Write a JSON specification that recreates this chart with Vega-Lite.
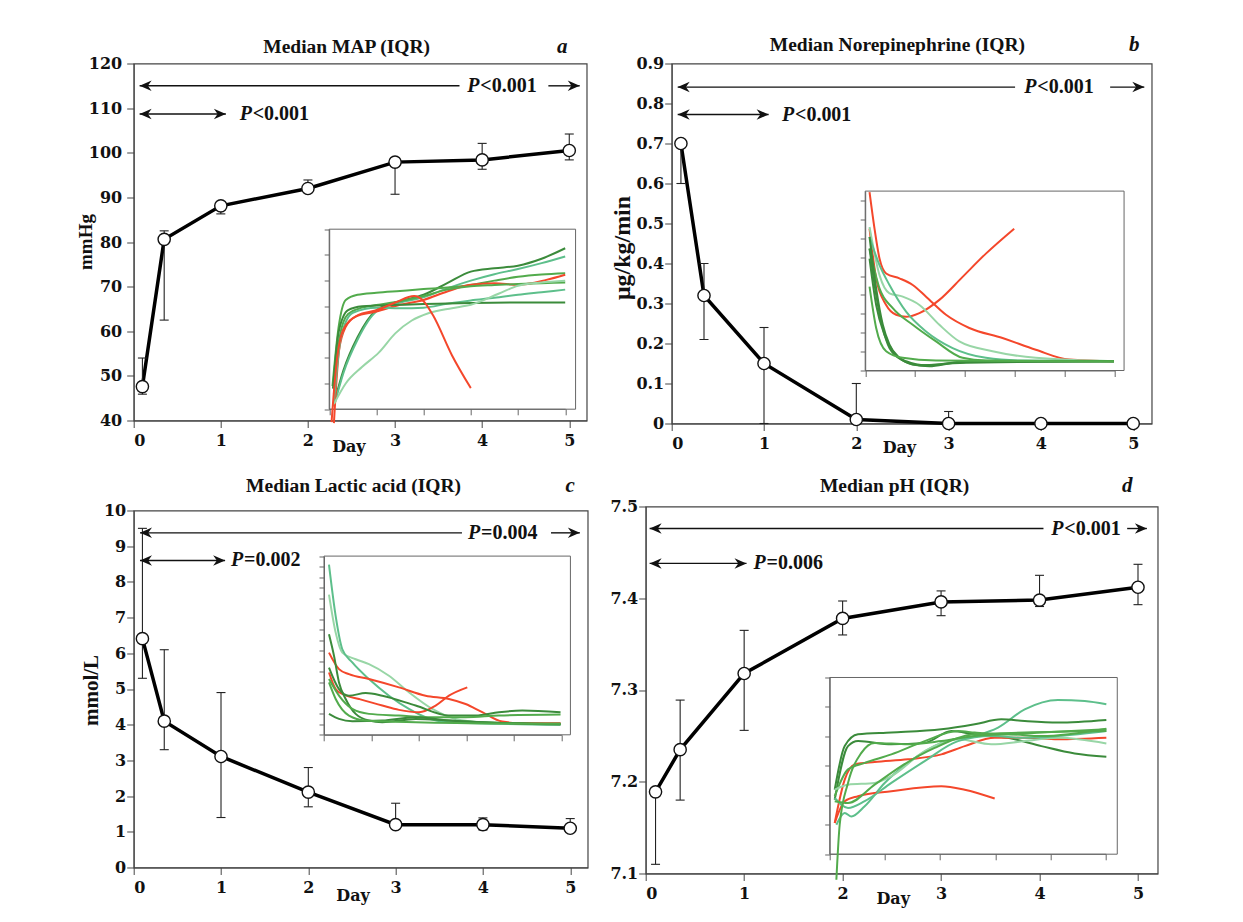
{
  "$schema": "https://vega.github.io/schema/vega-lite/v6.json",
  "background": "white",
  "padding": {"left": 75.7, "top": 32.5, "right": 5, "bottom": 5},
  "config": {
    "view": {"stroke": "#444", "strokeWidth": 1.2},
    "axis": {"grid": false, "labelOverlap": false, "labelSeparation": 0, "tickCount": 30, "domainColor": "#444", "tickColor": "#444", "tickSize": 7, "labelFont": "DejaVu Serif", "labelFontWeight": "bold", "labelFontSize": 16, "labelColor": "#111", "titleFont": "Liberation Serif", "titleFontWeight": "bold", "titleFontSize": 19, "titleColor": "#111"}
  },
  "datasets": {
    "main": [
      {"p":"a","x":0.1,"y":47.6,"lo":45.9,"hi":54.0},{"p":"a","x":0.35,"y":80.6,"lo":62.5,"hi":82.5},{"p":"a","x":1,"y":88.1,"lo":86.3,"hi":88.5},{"p":"a","x":2,"y":92.0,"lo":91.5,"hi":93.9},{"p":"a","x":3,"y":97.9,"lo":90.7,"hi":98.5},{"p":"a","x":4,"y":98.4,"lo":96.3,"hi":102.1},{"p":"a","x":5,"y":100.5,"lo":98.4,"hi":104.2},
      {"p":"b","x":0.1,"y":0.70,"lo":0.60,"hi":0.71},{"p":"b","x":0.35,"y":0.32,"lo":0.21,"hi":0.40},{"p":"b","x":1,"y":0.15,"lo":0,"hi":0.24},{"p":"b","x":2,"y":0.01,"lo":0,"hi":0.10},{"p":"b","x":3,"y":0,"lo":0,"hi":0.03},{"p":"b","x":4,"y":0,"lo":0,"hi":0},{"p":"b","x":5,"y":0,"lo":0,"hi":0},
      {"p":"c","x":0.1,"y":6.41,"lo":5.3,"hi":9.5},{"p":"c","x":0.35,"y":4.10,"lo":3.3,"hi":6.1},{"p":"c","x":1,"y":3.11,"lo":1.4,"hi":4.9},{"p":"c","x":2,"y":2.11,"lo":1.7,"hi":2.8},{"p":"c","x":3,"y":1.2,"lo":1.15,"hi":1.8},{"p":"c","x":4,"y":1.2,"lo":1.05,"hi":1.39},{"p":"c","x":5,"y":1.1,"lo":1.0,"hi":1.37},
      {"p":"d","x":0.1,"y":7.189,"lo":7.110,"hi":7.19},{"p":"d","x":0.35,"y":7.235,"lo":7.180,"hi":7.289},{"p":"d","x":1,"y":7.318,"lo":7.256,"hi":7.365},{"p":"d","x":2,"y":7.378,"lo":7.360,"hi":7.397},{"p":"d","x":3,"y":7.396,"lo":7.381,"hi":7.408},{"p":"d","x":4,"y":7.398,"lo":7.391,"hi":7.425},{"p":"d","x":5,"y":7.412,"lo":7.393,"hi":7.437}
    ],
    "segs": [
      {"p":"a","x":0.068,"x2":3.74,"y":115},{"p":"a","x":4.76,"x2":5.12,"y":115},{"p":"a","x":0.068,"x2":1.058,"y":108.7},
      {"p":"b","x":0.065,"x2":3.72,"y":0.841},{"p":"b","x":4.75,"x2":5.12,"y":0.841},{"p":"b","x":0.065,"x2":1.05,"y":0.7725},
      {"p":"c","x":0.072,"x2":3.76,"y":9.374},{"p":"c","x":4.78,"x2":5.11,"y":9.374},{"p":"c","x":0.072,"x2":1.047,"y":8.6},
      {"p":"d","x":0.04,"x2":4.04,"y":7.476},{"p":"d","x":4.89,"x2":5.09,"y":7.476},{"p":"d","x":0.04,"x2":1.024,"y":7.438}
    ],
    "heads": [
      {"p":"a","x":0.068,"y":115,"dir":"L"},{"p":"a","x":5.12,"y":115,"dir":"R"},{"p":"a","x":0.068,"y":108.7,"dir":"L"},{"p":"a","x":1.058,"y":108.7,"dir":"R"},
      {"p":"b","x":0.065,"y":0.841,"dir":"L"},{"p":"b","x":5.12,"y":0.841,"dir":"R"},{"p":"b","x":0.065,"y":0.7725,"dir":"L"},{"p":"b","x":1.05,"y":0.7725,"dir":"R"},
      {"p":"c","x":0.072,"y":9.374,"dir":"L"},{"p":"c","x":5.11,"y":9.374,"dir":"R"},{"p":"c","x":0.072,"y":8.6,"dir":"L"},{"p":"c","x":1.047,"y":8.6,"dir":"R"},
      {"p":"d","x":0.04,"y":7.476,"dir":"L"},{"p":"d","x":5.09,"y":7.476,"dir":"R"},{"p":"d","x":0.04,"y":7.438,"dir":"L"},{"p":"d","x":1.024,"y":7.438,"dir":"R"}
    ],
    "ptext": [
      {"p":"a","x":3.83,"y":115,"t":"<0.001"},{"p":"a","x":1.217,"y":108.7,"t":"<0.001"},
      {"p":"b","x":3.82,"y":0.841,"t":"<0.001"},{"p":"b","x":1.195,"y":0.7725,"t":"<0.001"},
      {"p":"c","x":3.83,"y":9.374,"t":"=0.004"},{"p":"c","x":1.115,"y":8.6,"t":"=0.002"},
      {"p":"d","x":4.12,"y":7.476,"t":"<0.001"},{"p":"d","x":1.096,"y":7.438,"t":"=0.006"}
    ],
    "letters": [
      {"p":"a","x":4.92,"y":123.7,"t":"a"},{"p":"b","x":5.01,"y":0.9475,"t":"b"},{"p":"c","x":5.0,"y":10.7,"t":"c"},{"p":"d","x":4.89,"y":7.5224,"t":"d"}
    ],
    "titles": [
      {"p":"a","x":2.444,"y":123.7,"t":"Median MAP (IQR)"},{"p":"b","x":2.445,"y":0.9475,"t":"Median Norepinephrine (IQR)"},{"p":"c","x":2.518,"y":10.7,"t":"Median Lactic acid (IQR)"},{"p":"d","x":2.528,"y":7.5224,"t":"Median pH (IQR)"}
    ],
    "frames": [
      {"p":"a","x0":0,"x1":5.22,"y0":40,"y1":110},{"p":"b","x0":0,"x1":5.19,"y0":0,"y1":0.95},{"p":"c","x0":0,"x1":5.19,"y0":0,"y1":17},{"p":"d","x0":0,"x1":5.21,"y0":7.0,"y1":7.6}
    ],
    "curves": [
      {"p":"a","id":"a1","c":"dark","d":0.1,"v":42},{"p":"a","id":"a1","c":"dark","d":0.3,"v":55},{"p":"a","id":"a1","c":"dark","d":0.6,"v":68},{"p":"a","id":"a1","c":"dark","d":1.0,"v":78.5},{"p":"a","id":"a1","c":"dark","d":1.5,"v":82},{"p":"a","id":"a1","c":"dark","d":2.0,"v":84.5},{"p":"a","id":"a1","c":"dark","d":2.5,"v":89},{"p":"a","id":"a1","c":"dark","d":3.0,"v":93.5},{"p":"a","id":"a1","c":"dark","d":3.5,"v":94.8},{"p":"a","id":"a1","c":"dark","d":4.0,"v":95.8},{"p":"a","id":"a1","c":"dark","d":4.5,"v":98.5},{"p":"a","id":"a1","c":"dark","d":5.0,"v":102.6},
      {"p":"a","id":"a2","c":"teal","d":0.1,"v":41},{"p":"a","id":"a2","c":"teal","d":0.3,"v":54},{"p":"a","id":"a2","c":"teal","d":0.6,"v":67},{"p":"a","id":"a2","c":"teal","d":1.0,"v":78},{"p":"a","id":"a2","c":"teal","d":1.5,"v":81.5},{"p":"a","id":"a2","c":"teal","d":2.0,"v":83.5},{"p":"a","id":"a2","c":"teal","d":2.5,"v":87},{"p":"a","id":"a2","c":"teal","d":3.0,"v":90},{"p":"a","id":"a2","c":"teal","d":3.5,"v":92.5},{"p":"a","id":"a2","c":"teal","d":4.0,"v":94.5},{"p":"a","id":"a2","c":"teal","d":4.5,"v":96.8},{"p":"a","id":"a2","c":"teal","d":5.0,"v":99.4},
      {"p":"a","id":"a3","c":"mid","d":0.07,"v":49},{"p":"a","id":"a3","c":"mid","d":0.2,"v":72},{"p":"a","id":"a3","c":"mid","d":0.35,"v":82.5},{"p":"a","id":"a3","c":"mid","d":0.6,"v":84.5},{"p":"a","id":"a3","c":"mid","d":1.0,"v":85.3},{"p":"a","id":"a3","c":"mid","d":1.5,"v":86},{"p":"a","id":"a3","c":"mid","d":2.0,"v":86.7},{"p":"a","id":"a3","c":"mid","d":2.5,"v":87.3},{"p":"a","id":"a3","c":"mid","d":3.0,"v":88.3},{"p":"a","id":"a3","c":"mid","d":3.5,"v":90},{"p":"a","id":"a3","c":"mid","d":4.0,"v":91.5},{"p":"a","id":"a3","c":"mid","d":4.5,"v":92.4},{"p":"a","id":"a3","c":"mid","d":5.0,"v":92.9},
      {"p":"a","id":"a4","c":"red","d":0.1,"v":34.6},{"p":"a","id":"a4","c":"red","d":0.21,"v":63},{"p":"a","id":"a4","c":"red","d":0.35,"v":72},{"p":"a","id":"a4","c":"red","d":0.56,"v":76},{"p":"a","id":"a4","c":"red","d":1.0,"v":78},{"p":"a","id":"a4","c":"red","d":1.5,"v":80.6},{"p":"a","id":"a4","c":"red","d":2.0,"v":82.5},{"p":"a","id":"a4","c":"red","d":2.5,"v":85.8},{"p":"a","id":"a4","c":"red","d":3.0,"v":88.4},{"p":"a","id":"a4","c":"red","d":3.5,"v":89},{"p":"a","id":"a4","c":"red","d":4.0,"v":88.4},{"p":"a","id":"a4","c":"red","d":4.6,"v":90.3},{"p":"a","id":"a4","c":"red","d":5.0,"v":92.3},
      {"p":"a","id":"a5","c":"mid","d":0.1,"v":46},{"p":"a","id":"a5","c":"mid","d":0.22,"v":68},{"p":"a","id":"a5","c":"mid","d":0.4,"v":77},{"p":"a","id":"a5","c":"mid","d":0.7,"v":79.5},{"p":"a","id":"a5","c":"mid","d":1.0,"v":80.5},{"p":"a","id":"a5","c":"mid","d":1.5,"v":82},{"p":"a","id":"a5","c":"mid","d":2.0,"v":84},{"p":"a","id":"a5","c":"mid","d":2.5,"v":86.5},{"p":"a","id":"a5","c":"mid","d":3.0,"v":87.8},{"p":"a","id":"a5","c":"mid","d":3.5,"v":88.3},{"p":"a","id":"a5","c":"mid","d":4.0,"v":88.7},{"p":"a","id":"a5","c":"mid","d":4.5,"v":89},{"p":"a","id":"a5","c":"mid","d":5.0,"v":89.3},
      {"p":"a","id":"a6","c":"teal","d":0.1,"v":43},{"p":"a","id":"a6","c":"teal","d":0.25,"v":68},{"p":"a","id":"a6","c":"teal","d":0.5,"v":77.5},{"p":"a","id":"a6","c":"teal","d":1.0,"v":79.5},{"p":"a","id":"a6","c":"teal","d":1.5,"v":79.3},{"p":"a","id":"a6","c":"teal","d":2.0,"v":79.5},{"p":"a","id":"a6","c":"teal","d":2.5,"v":81},{"p":"a","id":"a6","c":"teal","d":3.0,"v":82.3},{"p":"a","id":"a6","c":"teal","d":3.5,"v":83.3},{"p":"a","id":"a6","c":"teal","d":4.0,"v":84.5},{"p":"a","id":"a6","c":"teal","d":4.5,"v":85.5},{"p":"a","id":"a6","c":"teal","d":5.0,"v":86.5},
      {"p":"a","id":"a7","c":"dark","d":0.08,"v":48},{"p":"a","id":"a7","c":"dark","d":0.2,"v":70},{"p":"a","id":"a7","c":"dark","d":0.4,"v":78.5},{"p":"a","id":"a7","c":"dark","d":0.7,"v":80},{"p":"a","id":"a7","c":"dark","d":1.0,"v":80.3},{"p":"a","id":"a7","c":"dark","d":1.5,"v":80.6},{"p":"a","id":"a7","c":"dark","d":2.0,"v":80.9},{"p":"a","id":"a7","c":"dark","d":2.5,"v":81.1},{"p":"a","id":"a7","c":"dark","d":3.0,"v":81.3},{"p":"a","id":"a7","c":"dark","d":4.0,"v":81.5},{"p":"a","id":"a7","c":"dark","d":5.0,"v":81.5},
      {"p":"a","id":"a8","c":"pale","d":0.1,"v":42},{"p":"a","id":"a8","c":"pale","d":0.35,"v":50},{"p":"a","id":"a8","c":"pale","d":0.7,"v":56.5},{"p":"a","id":"a8","c":"pale","d":1.05,"v":62},{"p":"a","id":"a8","c":"pale","d":1.4,"v":69.5},{"p":"a","id":"a8","c":"pale","d":1.75,"v":74.5},{"p":"a","id":"a8","c":"pale","d":2.1,"v":77.3},{"p":"a","id":"a8","c":"pale","d":2.6,"v":79.3},{"p":"a","id":"a8","c":"pale","d":3.0,"v":80.6},{"p":"a","id":"a8","c":"pale","d":3.6,"v":85},{"p":"a","id":"a8","c":"pale","d":4.0,"v":88},{"p":"a","id":"a8","c":"pale","d":4.5,"v":89.3},{"p":"a","id":"a8","c":"pale","d":5.0,"v":90},
      {"p":"a","id":"a9","c":"red","d":0.05,"v":35},{"p":"a","id":"a9","c":"red","d":0.15,"v":57},{"p":"a","id":"a9","c":"red","d":0.3,"v":71},{"p":"a","id":"a9","c":"red","d":0.6,"v":76.5},{"p":"a","id":"a9","c":"red","d":1.0,"v":78.5},{"p":"a","id":"a9","c":"red","d":1.4,"v":81.5},{"p":"a","id":"a9","c":"red","d":1.8,"v":84},{"p":"a","id":"a9","c":"red","d":2.0,"v":82},{"p":"a","id":"a9","c":"red","d":2.2,"v":76.5},{"p":"a","id":"a9","c":"red","d":2.6,"v":61},{"p":"a","id":"a9","c":"red","d":3.0,"v":48.2},

      {"p":"b","id":"b1","c":"red","d":0.087,"v":0.944},{"p":"b","id":"b1","c":"red","d":0.187,"v":0.751},{"p":"b","id":"b1","c":"red","d":0.287,"v":0.593},{"p":"b","id":"b1","c":"red","d":0.42,"v":0.514},{"p":"b","id":"b1","c":"red","d":0.687,"v":0.488},{"p":"b","id":"b1","c":"red","d":0.953,"v":0.453},{"p":"b","id":"b1","c":"red","d":1.22,"v":0.391},{"p":"b","id":"b1","c":"red","d":1.62,"v":0.295},{"p":"b","id":"b1","c":"red","d":2.087,"v":0.225},{"p":"b","id":"b1","c":"red","d":2.753,"v":0.172},{"p":"b","id":"b1","c":"red","d":3.42,"v":0.11},{"p":"b","id":"b1","c":"red","d":4.087,"v":0.058},{"p":"b","id":"b1","c":"red","d":4.987,"v":0.049},
      {"p":"b","id":"b2","c":"red","d":0.087,"v":0.751},{"p":"b","id":"b2","c":"red","d":0.22,"v":0.488},{"p":"b","id":"b2","c":"red","d":0.42,"v":0.347},{"p":"b","id":"b2","c":"red","d":0.62,"v":0.295},{"p":"b","id":"b2","c":"red","d":0.82,"v":0.284},{"p":"b","id":"b2","c":"red","d":1.087,"v":0.304},{"p":"b","id":"b2","c":"red","d":1.487,"v":0.374},{"p":"b","id":"b2","c":"red","d":1.953,"v":0.496},{"p":"b","id":"b2","c":"red","d":2.42,"v":0.619},{"p":"b","id":"b2","c":"red","d":2.987,"v":0.751},
      {"p":"b","id":"b3","c":"pale","d":0.087,"v":0.76},{"p":"b","id":"b3","c":"pale","d":0.287,"v":0.505},{"p":"b","id":"b3","c":"pale","d":0.487,"v":0.409},{"p":"b","id":"b3","c":"pale","d":0.753,"v":0.391},{"p":"b","id":"b3","c":"pale","d":1.087,"v":0.347},{"p":"b","id":"b3","c":"pale","d":1.487,"v":0.242},{"p":"b","id":"b3","c":"pale","d":1.887,"v":0.154},{"p":"b","id":"b3","c":"pale","d":2.553,"v":0.102},{"p":"b","id":"b3","c":"pale","d":3.42,"v":0.067},{"p":"b","id":"b3","c":"pale","d":4.987,"v":0.049},
      {"p":"b","id":"b4","c":"teal","d":0.087,"v":0.707},{"p":"b","id":"b4","c":"teal","d":0.287,"v":0.558},{"p":"b","id":"b4","c":"teal","d":0.487,"v":0.453},{"p":"b","id":"b4","c":"teal","d":0.82,"v":0.312},{"p":"b","id":"b4","c":"teal","d":1.22,"v":0.207},{"p":"b","id":"b4","c":"teal","d":1.753,"v":0.119},{"p":"b","id":"b4","c":"teal","d":2.42,"v":0.067},{"p":"b","id":"b4","c":"teal","d":3.087,"v":0.053},{"p":"b","id":"b4","c":"teal","d":4.987,"v":0.049},
      {"p":"b","id":"b5","c":"mid","d":0.087,"v":0.646},{"p":"b","id":"b5","c":"mid","d":0.287,"v":0.435},{"p":"b","id":"b5","c":"mid","d":0.553,"v":0.33},{"p":"b","id":"b5","c":"mid","d":0.953,"v":0.242},{"p":"b","id":"b5","c":"mid","d":1.42,"v":0.154},{"p":"b","id":"b5","c":"mid","d":1.953,"v":0.067},{"p":"b","id":"b5","c":"mid","d":2.42,"v":0.053},{"p":"b","id":"b5","c":"mid","d":4.987,"v":0.049},
      {"p":"b","id":"b6","c":"dark","d":0.087,"v":0.707},{"p":"b","id":"b6","c":"dark","d":0.22,"v":0.435},{"p":"b","id":"b6","c":"dark","d":0.353,"v":0.242},{"p":"b","id":"b6","c":"dark","d":0.487,"v":0.137},{"p":"b","id":"b6","c":"dark","d":0.687,"v":0.067},{"p":"b","id":"b6","c":"dark","d":0.953,"v":0.032},{"p":"b","id":"b6","c":"dark","d":1.287,"v":0.023},{"p":"b","id":"b6","c":"dark","d":1.753,"v":0.04},{"p":"b","id":"b6","c":"dark","d":2.42,"v":0.049},{"p":"b","id":"b6","c":"dark","d":4.987,"v":0.049},
      {"p":"b","id":"b7","c":"dark","d":0.087,"v":0.646},{"p":"b","id":"b7","c":"dark","d":0.22,"v":0.4},{"p":"b","id":"b7","c":"dark","d":0.353,"v":0.225},{"p":"b","id":"b7","c":"dark","d":0.487,"v":0.119},{"p":"b","id":"b7","c":"dark","d":0.753,"v":0.053},{"p":"b","id":"b7","c":"dark","d":1.087,"v":0.028},{"p":"b","id":"b7","c":"dark","d":1.487,"v":0.032},{"p":"b","id":"b7","c":"dark","d":1.953,"v":0.046},{"p":"b","id":"b7","c":"dark","d":4.987,"v":0.049},
      {"p":"b","id":"b8","c":"dark","d":0.087,"v":0.593},{"p":"b","id":"b8","c":"dark","d":0.22,"v":0.347},{"p":"b","id":"b8","c":"dark","d":0.387,"v":0.189},{"p":"b","id":"b8","c":"dark","d":0.553,"v":0.102},{"p":"b","id":"b8","c":"dark","d":0.82,"v":0.049},{"p":"b","id":"b8","c":"dark","d":1.22,"v":0.028},{"p":"b","id":"b8","c":"dark","d":1.753,"v":0.039},{"p":"b","id":"b8","c":"dark","d":4.987,"v":0.049},
      {"p":"b","id":"b9","c":"mid","d":0.087,"v":0.444},{"p":"b","id":"b9","c":"mid","d":0.22,"v":0.225},{"p":"b","id":"b9","c":"mid","d":0.42,"v":0.102},{"p":"b","id":"b9","c":"mid","d":0.753,"v":0.067},{"p":"b","id":"b9","c":"mid","d":1.42,"v":0.053},{"p":"b","id":"b9","c":"mid","d":4.987,"v":0.049},

      {"p":"c","id":"c1","c":"pale","d":0.105,"v":13.34},{"p":"c","id":"c1","c":"pale","d":0.246,"v":9.72},{"p":"c","id":"c1","c":"pale","d":0.386,"v":7.82},{"p":"c","id":"c1","c":"pale","d":0.667,"v":7.19},{"p":"c","id":"c1","c":"pale","d":0.947,"v":6.72},{"p":"c","id":"c1","c":"pale","d":1.368,"v":5.62},{"p":"c","id":"c1","c":"pale","d":1.789,"v":4.04},{"p":"c","id":"c1","c":"pale","d":2.281,"v":2.46},{"p":"c","id":"c1","c":"pale","d":2.772,"v":1.51},{"p":"c","id":"c1","c":"pale","d":3.333,"v":1.2},{"p":"c","id":"c1","c":"pale","d":4.982,"v":1.04},
      {"p":"c","id":"c2","c":"teal","d":0.105,"v":16.18},{"p":"c","id":"c2","c":"teal","d":0.246,"v":11.29},{"p":"c","id":"c2","c":"teal","d":0.386,"v":8.14},{"p":"c","id":"c2","c":"teal","d":0.596,"v":6.88},{"p":"c","id":"c2","c":"teal","d":0.947,"v":5.3},{"p":"c","id":"c2","c":"teal","d":1.368,"v":3.72},{"p":"c","id":"c2","c":"teal","d":1.789,"v":2.46},{"p":"c","id":"c2","c":"teal","d":2.14,"v":1.67},{"p":"c","id":"c2","c":"teal","d":2.632,"v":1.2},{"p":"c","id":"c2","c":"teal","d":4.982,"v":0.95},
      {"p":"c","id":"c3","c":"red","d":0.105,"v":7.82},{"p":"c","id":"c3","c":"red","d":0.316,"v":6.25},{"p":"c","id":"c3","c":"red","d":0.526,"v":5.77},{"p":"c","id":"c3","c":"red","d":0.947,"v":5.3},{"p":"c","id":"c3","c":"red","d":1.579,"v":4.51},{"p":"c","id":"c3","c":"red","d":2.14,"v":3.72},{"p":"c","id":"c3","c":"red","d":2.632,"v":3.41},{"p":"c","id":"c3","c":"red","d":2.982,"v":2.93},{"p":"c","id":"c3","c":"red","d":3.333,"v":2.15},{"p":"c","id":"c3","c":"red","d":3.754,"v":1.26},{"p":"c","id":"c3","c":"red","d":4.175,"v":1.1},{"p":"c","id":"c3","c":"red","d":4.982,"v":1.1},
      {"p":"c","id":"c4","c":"red","d":0.105,"v":5.93},{"p":"c","id":"c4","c":"red","d":0.246,"v":4.35},{"p":"c","id":"c4","c":"red","d":0.386,"v":3.88},{"p":"c","id":"c4","c":"red","d":0.737,"v":3.41},{"p":"c","id":"c4","c":"red","d":1.228,"v":2.78},{"p":"c","id":"c4","c":"red","d":1.579,"v":2.37},{"p":"c","id":"c4","c":"red","d":2.0,"v":2.15},{"p":"c","id":"c4","c":"red","d":2.351,"v":2.78},{"p":"c","id":"c4","c":"red","d":2.632,"v":3.72},{"p":"c","id":"c4","c":"red","d":3.018,"v":4.51},
      {"p":"c","id":"c5","c":"dark","d":0.105,"v":9.56},{"p":"c","id":"c5","c":"dark","d":0.211,"v":7.51},{"p":"c","id":"c5","c":"dark","d":0.316,"v":4.98},{"p":"c","id":"c5","c":"dark","d":0.456,"v":3.41},{"p":"c","id":"c5","c":"dark","d":0.667,"v":1.99},{"p":"c","id":"c5","c":"dark","d":0.947,"v":1.36},{"p":"c","id":"c5","c":"dark","d":1.228,"v":1.2},{"p":"c","id":"c5","c":"dark","d":1.93,"v":1.51},{"p":"c","id":"c5","c":"dark","d":2.632,"v":1.36},{"p":"c","id":"c5","c":"dark","d":3.333,"v":1.2},{"p":"c","id":"c5","c":"dark","d":4.982,"v":1.04},
      {"p":"c","id":"c6","c":"dark","d":0.105,"v":6.4},{"p":"c","id":"c6","c":"dark","d":0.316,"v":4.35},{"p":"c","id":"c6","c":"dark","d":0.526,"v":3.72},{"p":"c","id":"c6","c":"dark","d":0.877,"v":3.97},{"p":"c","id":"c6","c":"dark","d":1.228,"v":3.72},{"p":"c","id":"c6","c":"dark","d":1.93,"v":2.78},{"p":"c","id":"c6","c":"dark","d":2.632,"v":1.83},{"p":"c","id":"c6","c":"dark","d":3.193,"v":1.83},{"p":"c","id":"c6","c":"dark","d":3.684,"v":2.15},{"p":"c","id":"c6","c":"dark","d":4.175,"v":2.3},{"p":"c","id":"c6","c":"dark","d":4.982,"v":2.15},
      {"p":"c","id":"c7","c":"mid","d":0.105,"v":5.3},{"p":"c","id":"c7","c":"mid","d":0.316,"v":3.72},{"p":"c","id":"c7","c":"mid","d":0.596,"v":2.46},{"p":"c","id":"c7","c":"mid","d":0.947,"v":1.99},{"p":"c","id":"c7","c":"mid","d":1.579,"v":1.83},{"p":"c","id":"c7","c":"mid","d":2.281,"v":1.67},{"p":"c","id":"c7","c":"mid","d":2.982,"v":1.67},{"p":"c","id":"c7","c":"mid","d":3.684,"v":1.83},{"p":"c","id":"c7","c":"mid","d":4.982,"v":1.92},
      {"p":"c","id":"c8","c":"dark","d":0.105,"v":1.99},{"p":"c","id":"c8","c":"dark","d":0.316,"v":1.51},{"p":"c","id":"c8","c":"dark","d":0.596,"v":1.29},{"p":"c","id":"c8","c":"dark","d":1.228,"v":1.36},{"p":"c","id":"c8","c":"dark","d":1.93,"v":1.67},{"p":"c","id":"c8","c":"dark","d":2.632,"v":1.36},{"p":"c","id":"c8","c":"dark","d":3.333,"v":1.2},{"p":"c","id":"c8","c":"dark","d":4.982,"v":0.98},
      {"p":"c","id":"c9","c":"mid","d":0.105,"v":4.98},{"p":"c","id":"c9","c":"mid","d":0.246,"v":3.41},{"p":"c","id":"c9","c":"mid","d":0.526,"v":1.83},{"p":"c","id":"c9","c":"mid","d":0.877,"v":1.36},{"p":"c","id":"c9","c":"mid","d":1.93,"v":1.2},{"p":"c","id":"c9","c":"mid","d":4.982,"v":1.04},

      {"p":"d","id":"d1","c":"teal","d":0.121,"v":7.1},{"p":"d","id":"d1","c":"teal","d":0.272,"v":7.14},{"p":"d","id":"d1","c":"teal","d":0.393,"v":7.128},{"p":"d","id":"d1","c":"teal","d":0.634,"v":7.163},{"p":"d","id":"d1","c":"teal","d":0.996,"v":7.242},{"p":"d","id":"d1","c":"teal","d":1.419,"v":7.31},{"p":"d","id":"d1","c":"teal","d":2.023,"v":7.378},{"p":"d","id":"d1","c":"teal","d":2.627,"v":7.401},{"p":"d","id":"d1","c":"teal","d":3.05,"v":7.43},{"p":"d","id":"d1","c":"teal","d":3.533,"v":7.492},{"p":"d","id":"d1","c":"teal","d":4.136,"v":7.524},{"p":"d","id":"d1","c":"teal","d":4.62,"v":7.52},{"p":"d","id":"d1","c":"teal","d":5.012,"v":7.509},
      {"p":"d","id":"d2","c":"dark","d":0.091,"v":7.219},{"p":"d","id":"d2","c":"dark","d":0.272,"v":7.367},{"p":"d","id":"d2","c":"dark","d":0.513,"v":7.407},{"p":"d","id":"d2","c":"dark","d":1.117,"v":7.413},{"p":"d","id":"d2","c":"dark","d":2.023,"v":7.424},{"p":"d","id":"d2","c":"dark","d":2.627,"v":7.441},{"p":"d","id":"d2","c":"dark","d":3.11,"v":7.458},{"p":"d","id":"d2","c":"dark","d":3.533,"v":7.452},{"p":"d","id":"d2","c":"dark","d":4.136,"v":7.447},{"p":"d","id":"d2","c":"dark","d":5.012,"v":7.456},
      {"p":"d","id":"d3","c":"dark","d":0.091,"v":7.185},{"p":"d","id":"d3","c":"dark","d":0.332,"v":7.367},{"p":"d","id":"d3","c":"dark","d":0.513,"v":7.384},{"p":"d","id":"d3","c":"dark","d":1.117,"v":7.373},{"p":"d","id":"d3","c":"dark","d":1.721,"v":7.378},{"p":"d","id":"d3","c":"dark","d":2.204,"v":7.418},{"p":"d","id":"d3","c":"dark","d":2.627,"v":7.407},{"p":"d","id":"d3","c":"dark","d":3.231,"v":7.395},{"p":"d","id":"d3","c":"dark","d":3.835,"v":7.367},{"p":"d","id":"d3","c":"dark","d":4.438,"v":7.342},{"p":"d","id":"d3","c":"dark","d":5.012,"v":7.331},
      {"p":"d","id":"d4","c":"red","d":0.091,"v":7.106},{"p":"d","id":"d4","c":"red","d":0.272,"v":7.253},{"p":"d","id":"d4","c":"red","d":0.453,"v":7.305},{"p":"d","id":"d4","c":"red","d":0.815,"v":7.313},{"p":"d","id":"d4","c":"red","d":1.419,"v":7.322},{"p":"d","id":"d4","c":"red","d":2.023,"v":7.339},{"p":"d","id":"d4","c":"red","d":2.446,"v":7.367},{"p":"d","id":"d4","c":"red","d":2.989,"v":7.395},{"p":"d","id":"d4","c":"red","d":3.533,"v":7.395},{"p":"d","id":"d4","c":"red","d":4.136,"v":7.39},{"p":"d","id":"d4","c":"red","d":5.012,"v":7.395},
      {"p":"d","id":"d5","c":"red","d":0.091,"v":7.106},{"p":"d","id":"d5","c":"red","d":0.272,"v":7.18},{"p":"d","id":"d5","c":"red","d":0.513,"v":7.197},{"p":"d","id":"d5","c":"red","d":1.117,"v":7.214},{"p":"d","id":"d5","c":"red","d":2.023,"v":7.231},{"p":"d","id":"d5","c":"red","d":2.446,"v":7.219},{"p":"d","id":"d5","c":"red","d":2.989,"v":7.189},
      {"p":"d","id":"d6","c":"mid","d":0.091,"v":7.197},{"p":"d","id":"d6","c":"mid","d":0.332,"v":7.288},{"p":"d","id":"d6","c":"mid","d":0.634,"v":7.31},{"p":"d","id":"d6","c":"mid","d":1.117,"v":7.339},{"p":"d","id":"d6","c":"mid","d":1.721,"v":7.384},{"p":"d","id":"d6","c":"mid","d":2.325,"v":7.418},{"p":"d","id":"d6","c":"mid","d":2.627,"v":7.413},{"p":"d","id":"d6","c":"mid","d":3.231,"v":7.407},{"p":"d","id":"d6","c":"mid","d":3.835,"v":7.413},{"p":"d","id":"d6","c":"mid","d":5.012,"v":7.424},
      {"p":"d","id":"d7","c":"pale","d":0.091,"v":7.219},{"p":"d","id":"d7","c":"pale","d":0.332,"v":7.236},{"p":"d","id":"d7","c":"pale","d":0.815,"v":7.242},{"p":"d","id":"d7","c":"pale","d":1.117,"v":7.265},{"p":"d","id":"d7","c":"pale","d":1.721,"v":7.35},{"p":"d","id":"d7","c":"pale","d":2.325,"v":7.39},{"p":"d","id":"d7","c":"pale","d":2.929,"v":7.373},{"p":"d","id":"d7","c":"pale","d":3.533,"v":7.384},{"p":"d","id":"d7","c":"pale","d":4.136,"v":7.395},{"p":"d","id":"d7","c":"pale","d":5.012,"v":7.376},
      {"p":"d","id":"d8","c":"teal","d":0.091,"v":7.191},{"p":"d","id":"d8","c":"teal","d":0.332,"v":7.157},{"p":"d","id":"d8","c":"teal","d":0.634,"v":7.18},{"p":"d","id":"d8","c":"teal","d":1.117,"v":7.242},{"p":"d","id":"d8","c":"teal","d":1.721,"v":7.316},{"p":"d","id":"d8","c":"teal","d":2.325,"v":7.384},{"p":"d","id":"d8","c":"teal","d":2.929,"v":7.401},{"p":"d","id":"d8","c":"teal","d":3.533,"v":7.395},{"p":"d","id":"d8","c":"teal","d":4.136,"v":7.401},{"p":"d","id":"d8","c":"teal","d":5.012,"v":7.418},
      {"p":"d","id":"d9","c":"mid","d":0.121,"v":6.913},{"p":"d","id":"d9","c":"mid","d":0.181,"v":7.1},{"p":"d","id":"d9","c":"mid","d":0.332,"v":7.242},{"p":"d","id":"d9","c":"mid","d":0.574,"v":7.344},{"p":"d","id":"d9","c":"mid","d":0.815,"v":7.378},{"p":"d","id":"d9","c":"mid","d":1.419,"v":7.373},{"p":"d","id":"d9","c":"mid","d":2.023,"v":7.384},{"p":"d","id":"d9","c":"mid","d":2.627,"v":7.401},{"p":"d","id":"d9","c":"mid","d":3.231,"v":7.407},{"p":"d","id":"d9","c":"mid","d":3.835,"v":7.401},{"p":"d","id":"d9","c":"mid","d":5.012,"v":7.426},
      {"p":"d","id":"d10","c":"mid","d":0.091,"v":7.18},{"p":"d","id":"d10","c":"mid","d":0.332,"v":7.174},{"p":"d","id":"d10","c":"mid","d":0.815,"v":7.236},{"p":"d","id":"d10","c":"mid","d":1.298,"v":7.299},{"p":"d","id":"d10","c":"mid","d":1.902,"v":7.361},{"p":"d","id":"d10","c":"mid","d":2.627,"v":7.407},{"p":"d","id":"d10","c":"mid","d":3.533,"v":7.413},{"p":"d","id":"d10","c":"mid","d":5.012,"v":7.418}
    ]
  },
  "columns": 2,
  "align": "none",
  "spacing": {"row": 17, "column": 20},
  "concat": [
    {
      "width": 453, "height": 357,
      "resolve": {"scale": {"x": "independent", "y": "independent"}},
      "layer": [
        {"layer": [
          {"data": {"name": "main"}, "transform": [{"filter": "datum.p=='a'"}], "mark": {"type": "line", "color": "#000", "strokeWidth": 3.5},
           "encoding": {
             "x": {"field": "x", "type": "quantitative", "scale": {"domain": [0, 5.2], "nice": false, "zero": false}, "axis": {"orient": "bottom", "values": [0,1,2,3,4,5], "tickCount": 30, "format": "d", "labelOverlap": false, "labelPadding": 5, "title": "Day", "titleX": 214.7, "titleY": 25.5, "titleAngle": 0, "titleAlign": "center", "titleBaseline": "middle", "titleFont": "DejaVu Serif", "titleFontSize": 16}},
             "y": {"field": "y", "type": "quantitative", "scale": {"domain": [40, 120], "nice": false, "zero": false}, "axis": {"orient": "left", "values": [40,50,60,70,80,90,100,110,120], "tickCount": 30, "format": "d", "labelOverlap": false, "labelPadding": 5, "title": "mmHg", "titleX": -47.9, "titleY": 178, "titleAngle": 270, "titleAlign": "center", "titleBaseline": "middle", "titleFontSize": 19}}
           }},
          {"data": {"name": "main"}, "transform": [{"filter": "datum.p=='a'"}], "mark": {"type": "rule", "strokeWidth": 1.1, "color": "#222"},
           "encoding": {"x": {"field": "x", "type": "quantitative"}, "y": {"field": "lo", "type": "quantitative"}, "y2": {"field": "hi"}}},
          {"data": {"name": "main"}, "transform": [{"filter": "datum.p=='a'"}], "mark": {"type": "tick", "orient": "horizontal", "size": 9, "thickness": 1.1, "color": "#222", "opacity": 1},
           "encoding": {"x": {"field": "x", "type": "quantitative"}, "y": {"field": "lo", "type": "quantitative"}}},
          {"data": {"name": "main"}, "transform": [{"filter": "datum.p=='a'"}], "mark": {"type": "tick", "orient": "horizontal", "size": 9, "thickness": 1.1, "color": "#222", "opacity": 1},
           "encoding": {"x": {"field": "x", "type": "quantitative"}, "y": {"field": "hi", "type": "quantitative"}}},
          {"data": {"name": "segs"}, "transform": [{"filter": "datum.p=='a'"}], "mark": {"type": "rule", "strokeWidth": 1.4, "color": "#111"},
           "encoding": {"x": {"field": "x", "type": "quantitative"}, "x2": {"field": "x2"}, "y": {"field": "y", "type": "quantitative"}}},
          {"data": {"name": "heads"}, "transform": [{"filter": "datum.p=='a'"}], "mark": {"type": "point", "filled": true, "color": "#111", "size": 225, "opacity": 1, "strokeWidth": 0},
           "encoding": {"x": {"field": "x", "type": "quantitative"}, "y": {"field": "y", "type": "quantitative"}, "shape": {"field": "dir", "type": "nominal", "scale": {"domain": ["L","R"], "range": ["M0,0L1.6,-0.7L1.1,0L1.6,0.7Z","M0,0L-1.6,-0.7L-1.1,0L-1.6,0.7Z"]}, "legend": null}}},
          {"data": {"name": "ptext"}, "transform": [{"filter": "datum.p=='a'"}], "mark": {"type": "text", "text": "P", "align": "left", "baseline": "middle", "font": "Liberation Serif", "fontSize": 20, "fontWeight": "bold", "fontStyle": "italic", "color": "#111"},
           "encoding": {"x": {"field": "x", "type": "quantitative"}, "y": {"field": "y", "type": "quantitative"}}},
          {"data": {"name": "ptext"}, "transform": [{"filter": "datum.p=='a'"}], "mark": {"type": "text", "dx": 13, "align": "left", "baseline": "middle", "font": "Liberation Serif", "fontSize": 20, "fontWeight": "bold", "color": "#111"},
           "encoding": {"x": {"field": "x", "type": "quantitative"}, "y": {"field": "y", "type": "quantitative"}, "text": {"field": "t"}}},
          {"data": {"name": "letters"}, "transform": [{"filter": "datum.p=='a'"}], "mark": {"type": "text", "align": "center", "baseline": "middle", "font": "Liberation Serif", "fontSize": 21, "fontWeight": "bold", "fontStyle": "italic", "color": "#111"},
           "encoding": {"x": {"field": "x", "type": "quantitative"}, "y": {"field": "y", "type": "quantitative"}, "text": {"field": "t"}}},
          {"data": {"name": "titles"}, "transform": [{"filter": "datum.p=='a'"}], "mark": {"type": "text", "align": "center", "baseline": "middle", "font": "Liberation Serif", "fontSize": 19.5, "fontWeight": "bold", "color": "#111"},
           "encoding": {"x": {"field": "x", "type": "quantitative"}, "y": {"field": "y", "type": "quantitative"}, "text": {"field": "t"}}},
          {"data": {"name": "main"}, "transform": [{"filter": "datum.p=='a'"}], "mark": {"type": "point", "filled": true, "fill": "#fff", "stroke": "#111", "strokeWidth": 1.4, "size": 150, "opacity": 1},
           "encoding": {"x": {"field": "x", "type": "quantitative"}, "y": {"field": "y", "type": "quantitative"}}}
        ]},
        {"layer": [
          {"data": {"name": "frames"}, "transform": [{"filter": "datum.p=='a'"}], "mark": {"type": "rect", "fillOpacity": 0, "stroke": "#666", "strokeWidth": 1},
           "encoding": {"x": {"field": "x0", "type": "quantitative"}, "x2": {"field": "x1"}, "y": {"field": "y0", "type": "quantitative"}, "y2": {"field": "y1"}}},
          {"data": {"name": "curves"}, "transform": [{"filter": "datum.p=='a'"}], "mark": {"type": "line", "interpolate": "monotone", "strokeWidth": 2},
           "encoding": {
             "x": {"field": "d", "type": "quantitative", "scale": {"domain": [0, 5], "range": [195.5, 431.5], "nice": false, "zero": false}, "axis": {"orient": "bottom", "offset": -11.7, "values": [0,1,2,3,4,5], "tickCount": 30, "labels": false, "title": null, "domainColor": "#666", "tickColor": "#666", "tickSize": 6}},
             "y": {"field": "v", "type": "quantitative", "scale": {"domain": [40, 110], "range": [345.7, 165.7], "nice": false, "zero": false}, "axis": {"orient": "left", "offset": -195.5, "values": [40,50,60,70,80,90,100,110], "tickCount": 30, "labels": false, "title": null, "domainColor": "#666", "tickColor": "#666", "tickSize": 5}},
             "color": {"field": "c", "type": "nominal", "scale": {"domain": ["dark","mid","teal","pale","red"], "range": ["#3b8b3b","#52ab4c","#5dbf8b","#98d6a6","#f4472b"]}, "legend": null},
             "detail": {"field": "id"}
           }}
        ]}
      ]
    },
    {
      "width": 480, "height": 360,
      "resolve": {"scale": {"x": "independent", "y": "independent"}},
      "layer": [
        {"layer": [
          {"data": {"name": "main"}, "transform": [{"filter": "datum.p=='b'"}], "mark": {"type": "line", "color": "#000", "strokeWidth": 3.5},
           "encoding": {
             "x": {"field": "x", "type": "quantitative", "scale": {"domain": [0, 5.2], "nice": false, "zero": false}, "axis": {"orient": "bottom", "values": [0,1,2,3,4,5], "tickCount": 30, "format": "d", "labelOverlap": false, "labelPadding": 5, "title": "Day", "titleX": 227.2, "titleY": 24.3, "titleAngle": 0, "titleAlign": "center", "titleBaseline": "middle", "titleFont": "DejaVu Serif", "titleFontSize": 16}},
             "y": {"field": "y", "type": "quantitative", "scale": {"domain": [0, 0.9], "nice": false, "zero": false}, "axis": {"orient": "left", "values": [0,0.1,0.2,0.3,0.4,0.5,0.6,0.7,0.8,0.9], "tickCount": 30, "format": ".1~f", "labelOverlap": false, "labelPadding": 1, "title": "μg/kg/min", "titleX": -49.6, "titleY": 184, "titleAngle": 270, "titleAlign": "center", "titleBaseline": "middle", "titleFontSize": 24}}
           }},
          {"data": {"name": "main"}, "transform": [{"filter": "datum.p=='b'"}], "mark": {"type": "rule", "strokeWidth": 1.1, "color": "#222"},
           "encoding": {"x": {"field": "x", "type": "quantitative"}, "y": {"field": "lo", "type": "quantitative"}, "y2": {"field": "hi"}}},
          {"data": {"name": "main"}, "transform": [{"filter": "datum.p=='b'"}], "mark": {"type": "tick", "orient": "horizontal", "size": 9, "thickness": 1.1, "color": "#222", "opacity": 1},
           "encoding": {"x": {"field": "x", "type": "quantitative"}, "y": {"field": "lo", "type": "quantitative"}}},
          {"data": {"name": "main"}, "transform": [{"filter": "datum.p=='b'"}], "mark": {"type": "tick", "orient": "horizontal", "size": 9, "thickness": 1.1, "color": "#222", "opacity": 1},
           "encoding": {"x": {"field": "x", "type": "quantitative"}, "y": {"field": "hi", "type": "quantitative"}}},
          {"data": {"name": "segs"}, "transform": [{"filter": "datum.p=='b'"}], "mark": {"type": "rule", "strokeWidth": 1.4, "color": "#111"},
           "encoding": {"x": {"field": "x", "type": "quantitative"}, "x2": {"field": "x2"}, "y": {"field": "y", "type": "quantitative"}}},
          {"data": {"name": "heads"}, "transform": [{"filter": "datum.p=='b'"}], "mark": {"type": "point", "filled": true, "color": "#111", "size": 225, "opacity": 1, "strokeWidth": 0},
           "encoding": {"x": {"field": "x", "type": "quantitative"}, "y": {"field": "y", "type": "quantitative"}, "shape": {"field": "dir", "type": "nominal", "scale": {"domain": ["L","R"], "range": ["M0,0L1.6,-0.7L1.1,0L1.6,0.7Z","M0,0L-1.6,-0.7L-1.1,0L-1.6,0.7Z"]}, "legend": null}}},
          {"data": {"name": "ptext"}, "transform": [{"filter": "datum.p=='b'"}], "mark": {"type": "text", "text": "P", "align": "left", "baseline": "middle", "font": "Liberation Serif", "fontSize": 20, "fontWeight": "bold", "fontStyle": "italic", "color": "#111"},
           "encoding": {"x": {"field": "x", "type": "quantitative"}, "y": {"field": "y", "type": "quantitative"}}},
          {"data": {"name": "ptext"}, "transform": [{"filter": "datum.p=='b'"}], "mark": {"type": "text", "dx": 13, "align": "left", "baseline": "middle", "font": "Liberation Serif", "fontSize": 20, "fontWeight": "bold", "color": "#111"},
           "encoding": {"x": {"field": "x", "type": "quantitative"}, "y": {"field": "y", "type": "quantitative"}, "text": {"field": "t"}}},
          {"data": {"name": "letters"}, "transform": [{"filter": "datum.p=='b'"}], "mark": {"type": "text", "align": "center", "baseline": "middle", "font": "Liberation Serif", "fontSize": 21, "fontWeight": "bold", "fontStyle": "italic", "color": "#111"},
           "encoding": {"x": {"field": "x", "type": "quantitative"}, "y": {"field": "y", "type": "quantitative"}, "text": {"field": "t"}}},
          {"data": {"name": "titles"}, "transform": [{"filter": "datum.p=='b'"}], "mark": {"type": "text", "align": "center", "baseline": "middle", "font": "Liberation Serif", "fontSize": 19.5, "fontWeight": "bold", "color": "#111"},
           "encoding": {"x": {"field": "x", "type": "quantitative"}, "y": {"field": "y", "type": "quantitative"}, "text": {"field": "t"}}},
          {"data": {"name": "main"}, "transform": [{"filter": "datum.p=='b'"}], "mark": {"type": "point", "filled": true, "fill": "#fff", "stroke": "#111", "strokeWidth": 1.4, "size": 150, "opacity": 1},
           "encoding": {"x": {"field": "x", "type": "quantitative"}, "y": {"field": "y", "type": "quantitative"}}}
        ]},
        {"layer": [
          {"data": {"name": "frames"}, "transform": [{"filter": "datum.p=='b'"}], "mark": {"type": "rect", "fillOpacity": 0, "stroke": "#666", "strokeWidth": 1},
           "encoding": {"x": {"field": "x0", "type": "quantitative"}, "x2": {"field": "x1"}, "y": {"field": "y0", "type": "quantitative"}, "y2": {"field": "y1"}}},
          {"data": {"name": "curves"}, "transform": [{"filter": "datum.p=='b'"}], "mark": {"type": "line", "interpolate": "monotone", "strokeWidth": 2},
           "encoding": {
             "x": {"field": "d", "type": "quantitative", "scale": {"domain": [0, 5], "range": [193.5, 442.9], "nice": false, "zero": false}, "axis": {"orient": "bottom", "offset": -53, "values": [0,1,2,3,4,5], "tickCount": 30, "labels": false, "title": null, "domainColor": "#666", "tickColor": "#666", "tickSize": 6}},
             "y": {"field": "v", "type": "quantitative", "scale": {"domain": [0, 0.95], "range": [307, 127.6], "nice": false, "zero": false}, "axis": {"orient": "left", "offset": -193.5, "values": [0,0.1,0.2,0.3,0.4,0.5,0.6,0.7,0.8,0.9], "tickCount": 30, "labels": false, "title": null, "domainColor": "#666", "tickColor": "#666", "tickSize": 5}},
             "color": {"field": "c", "type": "nominal", "scale": {"domain": ["dark","mid","teal","pale","red"], "range": ["#3b8b3b","#52ab4c","#5dbf8b","#98d6a6","#f4472b"]}, "legend": null},
             "detail": {"field": "id"}
           }}
        ]}
      ]
    },
    {
      "width": 454, "height": 357,
      "resolve": {"scale": {"x": "independent", "y": "independent"}},
      "layer": [
        {"layer": [
          {"data": {"name": "main"}, "transform": [{"filter": "datum.p=='c'"}], "mark": {"type": "line", "color": "#000", "strokeWidth": 3.5},
           "encoding": {
             "x": {"field": "x", "type": "quantitative", "scale": {"domain": [0, 5.2], "nice": false, "zero": false}, "axis": {"orient": "bottom", "values": [0,1,2,3,4,5], "tickCount": 30, "format": "d", "labelOverlap": false, "labelPadding": 5, "title": "Day", "titleX": 218.9, "titleY": 28, "titleAngle": 0, "titleAlign": "center", "titleBaseline": "middle", "titleFont": "DejaVu Serif", "titleFontSize": 16}},
             "y": {"field": "y", "type": "quantitative", "scale": {"domain": [0, 10], "nice": false, "zero": false}, "axis": {"orient": "left", "values": [0,1,2,3,4,5,6,7,8,9,10], "tickCount": 30, "format": "d", "labelOverlap": false, "labelPadding": 1, "title": "mmol/L", "titleX": -42.3, "titleY": 179.5, "titleAngle": 270, "titleAlign": "center", "titleBaseline": "middle", "titleFontSize": 21}}
           }},
          {"data": {"name": "main"}, "transform": [{"filter": "datum.p=='c'"}], "mark": {"type": "rule", "strokeWidth": 1.1, "color": "#222"},
           "encoding": {"x": {"field": "x", "type": "quantitative"}, "y": {"field": "lo", "type": "quantitative"}, "y2": {"field": "hi"}}},
          {"data": {"name": "main"}, "transform": [{"filter": "datum.p=='c'"}], "mark": {"type": "tick", "orient": "horizontal", "size": 9, "thickness": 1.1, "color": "#222", "opacity": 1},
           "encoding": {"x": {"field": "x", "type": "quantitative"}, "y": {"field": "lo", "type": "quantitative"}}},
          {"data": {"name": "main"}, "transform": [{"filter": "datum.p=='c'"}], "mark": {"type": "tick", "orient": "horizontal", "size": 9, "thickness": 1.1, "color": "#222", "opacity": 1},
           "encoding": {"x": {"field": "x", "type": "quantitative"}, "y": {"field": "hi", "type": "quantitative"}}},
          {"data": {"name": "segs"}, "transform": [{"filter": "datum.p=='c'"}], "mark": {"type": "rule", "strokeWidth": 1.4, "color": "#111"},
           "encoding": {"x": {"field": "x", "type": "quantitative"}, "x2": {"field": "x2"}, "y": {"field": "y", "type": "quantitative"}}},
          {"data": {"name": "heads"}, "transform": [{"filter": "datum.p=='c'"}], "mark": {"type": "point", "filled": true, "color": "#111", "size": 225, "opacity": 1, "strokeWidth": 0},
           "encoding": {"x": {"field": "x", "type": "quantitative"}, "y": {"field": "y", "type": "quantitative"}, "shape": {"field": "dir", "type": "nominal", "scale": {"domain": ["L","R"], "range": ["M0,0L1.6,-0.7L1.1,0L1.6,0.7Z","M0,0L-1.6,-0.7L-1.1,0L-1.6,0.7Z"]}, "legend": null}}},
          {"data": {"name": "ptext"}, "transform": [{"filter": "datum.p=='c'"}], "mark": {"type": "text", "text": "P", "align": "left", "baseline": "middle", "font": "Liberation Serif", "fontSize": 20, "fontWeight": "bold", "fontStyle": "italic", "color": "#111"},
           "encoding": {"x": {"field": "x", "type": "quantitative"}, "y": {"field": "y", "type": "quantitative"}}},
          {"data": {"name": "ptext"}, "transform": [{"filter": "datum.p=='c'"}], "mark": {"type": "text", "dx": 13, "align": "left", "baseline": "middle", "font": "Liberation Serif", "fontSize": 20, "fontWeight": "bold", "color": "#111"},
           "encoding": {"x": {"field": "x", "type": "quantitative"}, "y": {"field": "y", "type": "quantitative"}, "text": {"field": "t"}}},
          {"data": {"name": "letters"}, "transform": [{"filter": "datum.p=='c'"}], "mark": {"type": "text", "align": "center", "baseline": "middle", "font": "Liberation Serif", "fontSize": 21, "fontWeight": "bold", "fontStyle": "italic", "color": "#111"},
           "encoding": {"x": {"field": "x", "type": "quantitative"}, "y": {"field": "y", "type": "quantitative"}, "text": {"field": "t"}}},
          {"data": {"name": "titles"}, "transform": [{"filter": "datum.p=='c'"}], "mark": {"type": "text", "align": "center", "baseline": "middle", "font": "Liberation Serif", "fontSize": 19.5, "fontWeight": "bold", "color": "#111"},
           "encoding": {"x": {"field": "x", "type": "quantitative"}, "y": {"field": "y", "type": "quantitative"}, "text": {"field": "t"}}},
          {"data": {"name": "main"}, "transform": [{"filter": "datum.p=='c'"}], "mark": {"type": "point", "filled": true, "fill": "#fff", "stroke": "#111", "strokeWidth": 1.4, "size": 150, "opacity": 1},
           "encoding": {"x": {"field": "x", "type": "quantitative"}, "y": {"field": "y", "type": "quantitative"}}}
        ]},
        {"layer": [
          {"data": {"name": "frames"}, "transform": [{"filter": "datum.p=='c'"}], "mark": {"type": "rect", "fillOpacity": 0, "stroke": "#666", "strokeWidth": 1},
           "encoding": {"x": {"field": "x0", "type": "quantitative"}, "x2": {"field": "x1"}, "y": {"field": "y0", "type": "quantitative"}, "y2": {"field": "y1"}}},
          {"data": {"name": "curves"}, "transform": [{"filter": "datum.p=='c'"}], "mark": {"type": "line", "interpolate": "monotone", "strokeWidth": 2},
           "encoding": {
             "x": {"field": "d", "type": "quantitative", "scale": {"domain": [0, 5], "range": [190.3, 427.7], "nice": false, "zero": false}, "axis": {"orient": "bottom", "offset": -132.7, "values": [0,1,2,3,4,5], "tickCount": 30, "labels": false, "title": null, "domainColor": "#666", "tickColor": "#666", "tickSize": 6}},
             "y": {"field": "v", "type": "quantitative", "scale": {"domain": [0, 17], "range": [224.3, 45.6], "nice": false, "zero": false}, "axis": {"orient": "left", "offset": -190.3, "values": [0,1,2,3,4,5,6,7,8,9,10,11,12,13,14,15,16,17], "tickCount": 30, "labels": false, "title": null, "domainColor": "#666", "tickColor": "#666", "tickSize": 5}},
             "color": {"field": "c", "type": "nominal", "scale": {"domain": ["dark","mid","teal","pale","red"], "range": ["#3b8b3b","#52ab4c","#5dbf8b","#98d6a6","#f4472b"]}, "legend": null},
             "detail": {"field": "id"}
           }}
        ]}
      ]
    },
    {
      "width": 512, "height": 367,
      "resolve": {"scale": {"x": "independent", "y": "independent"}},
      "layer": [
        {"layer": [
          {"data": {"name": "main"}, "transform": [{"filter": "datum.p=='d'"}], "mark": {"type": "line", "color": "#000", "strokeWidth": 3.5},
           "encoding": {
             "x": {"field": "x", "type": "quantitative", "scale": {"domain": [0, 5.2], "nice": false, "zero": false}, "axis": {"orient": "bottom", "values": [0,1,2,3,4,5], "tickCount": 30, "format": "d", "labelOverlap": false, "labelPadding": 5, "title": "Day", "titleX": 247, "titleY": 25.3, "titleAngle": 0, "titleAlign": "center", "titleBaseline": "middle", "titleFont": "DejaVu Serif", "titleFontSize": 16}},
             "y": {"field": "y", "type": "quantitative", "scale": {"domain": [7.1, 7.5], "nice": false, "zero": false}, "axis": {"orient": "left", "values": [7.1,7.2,7.3,7.4,7.5], "tickCount": 30, "format": ".1f", "labelOverlap": false, "labelPadding": 1, "title": null}}
           }},
          {"data": {"name": "main"}, "transform": [{"filter": "datum.p=='d'"}], "mark": {"type": "rule", "strokeWidth": 1.1, "color": "#222"},
           "encoding": {"x": {"field": "x", "type": "quantitative"}, "y": {"field": "lo", "type": "quantitative"}, "y2": {"field": "hi"}}},
          {"data": {"name": "main"}, "transform": [{"filter": "datum.p=='d'"}], "mark": {"type": "tick", "orient": "horizontal", "size": 9, "thickness": 1.1, "color": "#222", "opacity": 1},
           "encoding": {"x": {"field": "x", "type": "quantitative"}, "y": {"field": "lo", "type": "quantitative"}}},
          {"data": {"name": "main"}, "transform": [{"filter": "datum.p=='d'"}], "mark": {"type": "tick", "orient": "horizontal", "size": 9, "thickness": 1.1, "color": "#222", "opacity": 1},
           "encoding": {"x": {"field": "x", "type": "quantitative"}, "y": {"field": "hi", "type": "quantitative"}}},
          {"data": {"name": "segs"}, "transform": [{"filter": "datum.p=='d'"}], "mark": {"type": "rule", "strokeWidth": 1.4, "color": "#111"},
           "encoding": {"x": {"field": "x", "type": "quantitative"}, "x2": {"field": "x2"}, "y": {"field": "y", "type": "quantitative"}}},
          {"data": {"name": "heads"}, "transform": [{"filter": "datum.p=='d'"}], "mark": {"type": "point", "filled": true, "color": "#111", "size": 225, "opacity": 1, "strokeWidth": 0},
           "encoding": {"x": {"field": "x", "type": "quantitative"}, "y": {"field": "y", "type": "quantitative"}, "shape": {"field": "dir", "type": "nominal", "scale": {"domain": ["L","R"], "range": ["M0,0L1.6,-0.7L1.1,0L1.6,0.7Z","M0,0L-1.6,-0.7L-1.1,0L-1.6,0.7Z"]}, "legend": null}}},
          {"data": {"name": "ptext"}, "transform": [{"filter": "datum.p=='d'"}], "mark": {"type": "text", "text": "P", "align": "left", "baseline": "middle", "font": "Liberation Serif", "fontSize": 20, "fontWeight": "bold", "fontStyle": "italic", "color": "#111"},
           "encoding": {"x": {"field": "x", "type": "quantitative"}, "y": {"field": "y", "type": "quantitative"}}},
          {"data": {"name": "ptext"}, "transform": [{"filter": "datum.p=='d'"}], "mark": {"type": "text", "dx": 13, "align": "left", "baseline": "middle", "font": "Liberation Serif", "fontSize": 20, "fontWeight": "bold", "color": "#111"},
           "encoding": {"x": {"field": "x", "type": "quantitative"}, "y": {"field": "y", "type": "quantitative"}, "text": {"field": "t"}}},
          {"data": {"name": "letters"}, "transform": [{"filter": "datum.p=='d'"}], "mark": {"type": "text", "align": "center", "baseline": "middle", "font": "Liberation Serif", "fontSize": 21, "fontWeight": "bold", "fontStyle": "italic", "color": "#111"},
           "encoding": {"x": {"field": "x", "type": "quantitative"}, "y": {"field": "y", "type": "quantitative"}, "text": {"field": "t"}}},
          {"data": {"name": "titles"}, "transform": [{"filter": "datum.p=='d'"}], "mark": {"type": "text", "align": "center", "baseline": "middle", "font": "Liberation Serif", "fontSize": 19.5, "fontWeight": "bold", "color": "#111"},
           "encoding": {"x": {"field": "x", "type": "quantitative"}, "y": {"field": "y", "type": "quantitative"}, "text": {"field": "t"}}},
          {"data": {"name": "main"}, "transform": [{"filter": "datum.p=='d'"}], "mark": {"type": "point", "filled": true, "fill": "#fff", "stroke": "#111", "strokeWidth": 1.4, "size": 150, "opacity": 1},
           "encoding": {"x": {"field": "x", "type": "quantitative"}, "y": {"field": "y", "type": "quantitative"}}}
        ]},
        {"layer": [
          {"data": {"name": "frames"}, "transform": [{"filter": "datum.p=='d'"}], "mark": {"type": "rect", "fillOpacity": 0, "stroke": "#666", "strokeWidth": 1},
           "encoding": {"x": {"field": "x0", "type": "quantitative"}, "x2": {"field": "x1"}, "y": {"field": "y0", "type": "quantitative"}, "y2": {"field": "y1"}}},
          {"data": {"name": "curves"}, "transform": [{"filter": "datum.p=='d'"}], "mark": {"type": "line", "interpolate": "monotone", "strokeWidth": 2},
           "encoding": {
             "x": {"field": "d", "type": "quantitative", "scale": {"domain": [0, 5], "range": [184, 460], "nice": false, "zero": false}, "axis": {"orient": "bottom", "offset": -19.7, "values": [0,1,2,3,4,5], "tickCount": 30, "labels": false, "title": null, "domainColor": "#666", "tickColor": "#666", "tickSize": 6}},
             "y": {"field": "v", "type": "quantitative", "scale": {"domain": [7.0, 7.6], "range": [347.7, 171], "nice": false, "zero": false}, "axis": {"orient": "left", "offset": -184, "values": [7.0,7.1,7.2,7.3,7.4,7.5,7.6], "tickCount": 30, "labels": false, "title": null, "domainColor": "#666", "tickColor": "#666", "tickSize": 5}},
             "color": {"field": "c", "type": "nominal", "scale": {"domain": ["dark","mid","teal","pale","red"], "range": ["#3b8b3b","#52ab4c","#5dbf8b","#98d6a6","#f4472b"]}, "legend": null},
             "detail": {"field": "id"}
           }}
        ]}
      ]
    }
  ]
}
